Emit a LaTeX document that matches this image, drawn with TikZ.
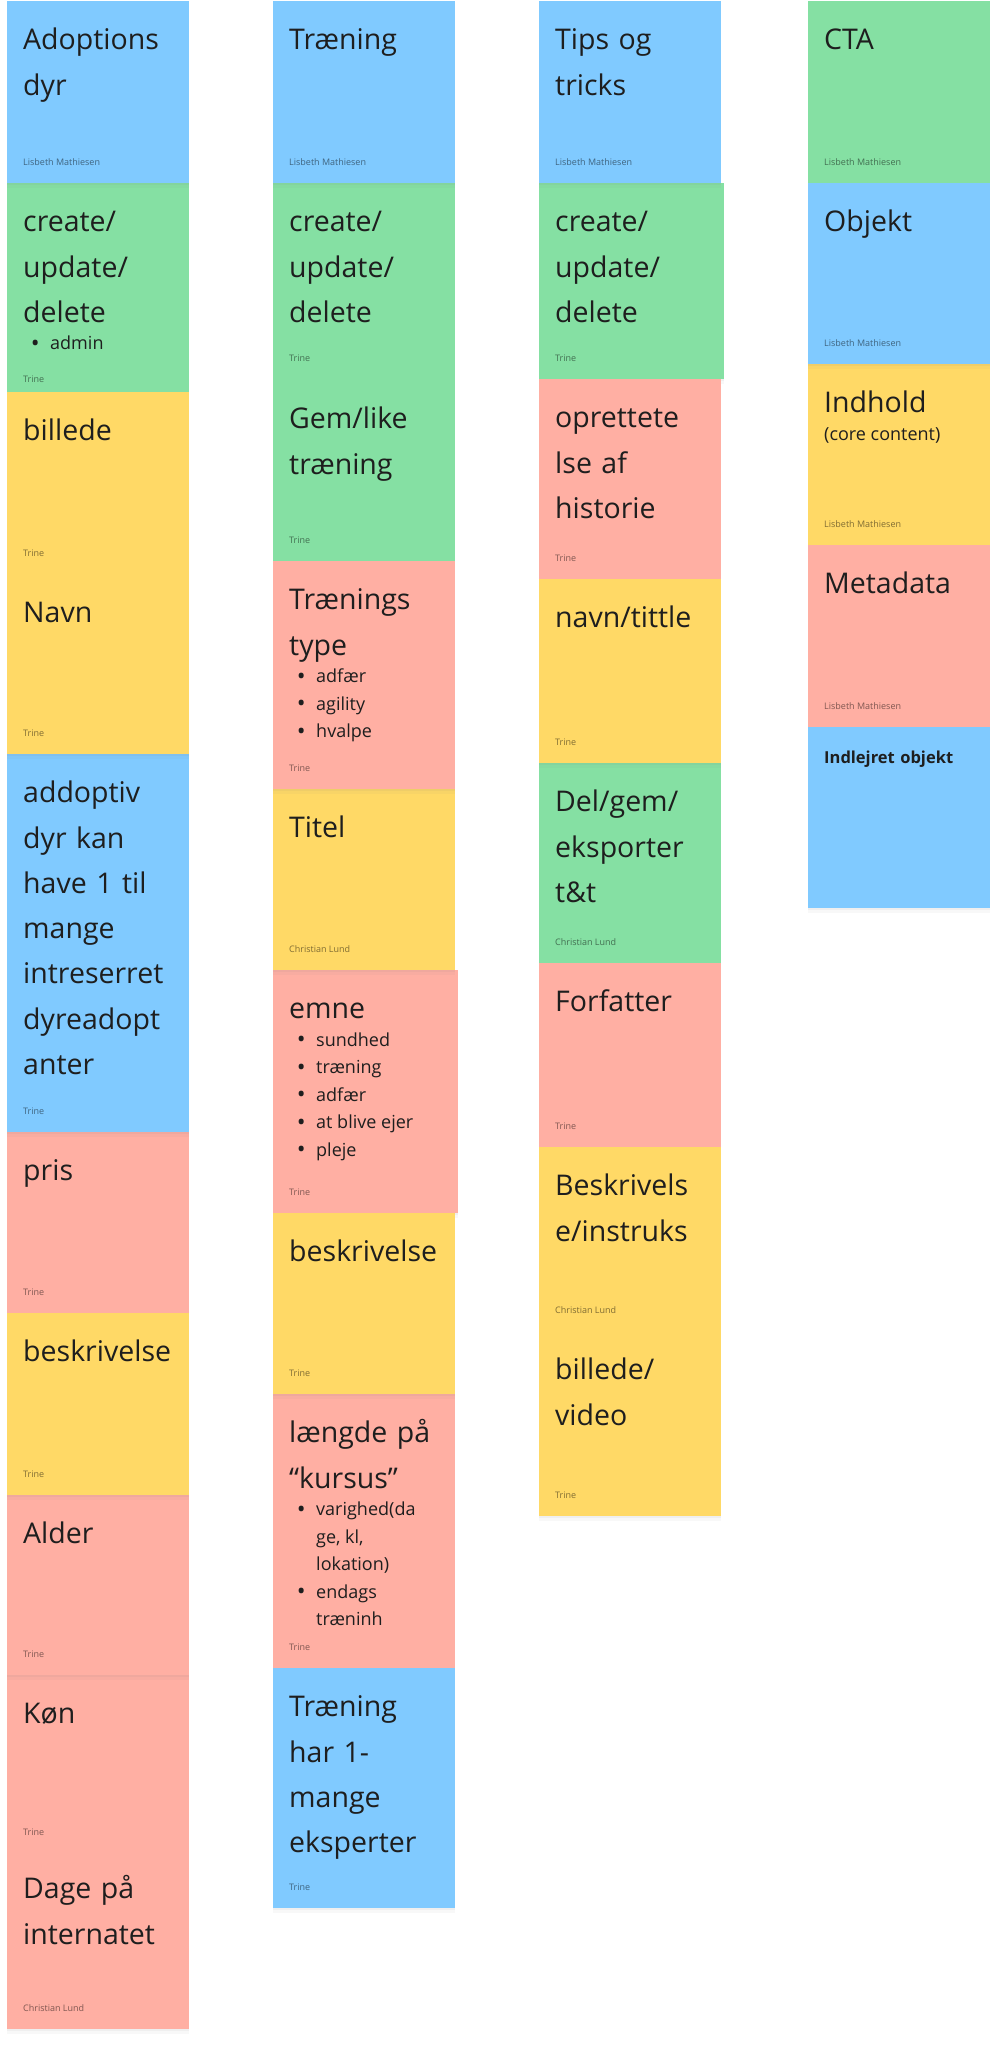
\documentclass[tikz,border=0pt]{standalone}
\usepackage{fontspec}
\setmainfont{Open Sans}
\usetikzlibrary{shadows}
\definecolor{blaafarve}{HTML}{80CAFF}
\definecolor{groenfarve}{HTML}{85E0A3}
\definecolor{gulfarve}{HTML}{FFD966}
\definecolor{roedfarve}{HTML}{FFAFA3}
\definecolor{tekstfarve}{HTML}{1E1E1E}
\newcommand{\smaa}{\fontsize{18}{27.5}\selectfont\spaceskip=0pt\xspaceskip=0pt}
\newcommand{\punkt}[1]{\par{\smaa\leftskip=27pt\noindent\llap{\raisebox{-1.5pt}{\scalebox{1.3}{\textbullet}}\hspace{10.5pt}}#1\par}}
\newcommand{\undertekst}[1]{\par{\smaa #1\par}}

\begin{document}
\begin{tikzpicture}[
    x=1pt, y=-1pt,
    seddel/.style={rectangle, anchor=north west, inner sep=0pt,
      minimum width=182pt, minimum height=182pt,
      drop shadow={shadow xshift=0pt, shadow yshift=-2pt, opacity=0.07},
      drop shadow={shadow xshift=0pt, shadow yshift=-5pt, opacity=0.05}},
    blaa/.style={seddel, fill=blaafarve},
    groen/.style={seddel, fill=groenfarve},
    gul/.style={seddel, fill=gulfarve},
    roed/.style={seddel, fill=roedfarve},
    tekst/.style={anchor=north west, xshift=16pt, yshift=-16.8pt, inner sep=0pt,
      text width=170pt, align=left, font=\fontsize{28.5}{45.3}\selectfont,
      text=tekstfarve, execute at begin node=\strut},
    forfatter/.style={anchor=base west, xshift=16pt, yshift=17.5pt, inner sep=0pt,
      font=\fontsize{9}{11}\selectfont, text=black, text opacity=0.5}
  ]
    \fill[white] (0,0) rectangle (998,2048);
    \useasboundingbox (0,0) rectangle (998,2048);

    % kolonne 1: adoptionsdyr
    \node[roed, minimum height=178pt, label={[tekst]north west:{Køn}},
      label={[forfatter]south west:Trine}] (kon) at (7,1675) {};
    \node[roed, minimum height=179pt, label={[tekst]north west:{Dage på\\internatet}},
      label={[forfatter]south west:Christian Lund}] (dage) at (7,1850) {};
    \node[roed, minimum height=180pt, label={[tekst]north west:{Alder}},
      label={[forfatter]south west:Trine}] (alder) at (7,1495) {};
    \node[roed, minimum height=181pt, label={[tekst]north west:{pris}},
      label={[forfatter]south west:Trine}] (pris) at (7,1132) {};
    \node[gul, label={[tekst]north west:{beskrivelse}},
      label={[forfatter]south west:Trine}] (beskr1) at (7,1313) {};
    \node[blaa, minimum height=378pt,
      label={[tekst]north west:{addoptiv\\dyr kan\\have 1 til\\mange\\intreserret\\dyreadopt\\anter}},
      label={[forfatter]south west:Trine}] (addoptiv) at (7,754) {};
    \node[groen, minimum height=209pt,
      label={[tekst]north west:{create/\\update/\\delete\punkt{admin}}},
      label={[forfatter, yshift=-8pt]south west:Trine}] (crud1) at (7,183) {};
    \node[gul, label={[tekst]north west:{billede}},
      label={[forfatter]south west:Trine}] (billede) at (7,392) {};
    \node[gul, minimum height=180pt, label={[tekst]north west:{Navn}},
      label={[forfatter]south west:Trine}] (navn) at (7,574) {};
    \node[blaa, label={[tekst]north west:{Adoptions\\dyr}},
      label={[forfatter]south west:Lisbeth Mathiesen}] (adopt) at (7,1) {};

    % kolonne 2: traening
    \node[roed, minimum height=274pt,
      label={[tekst]north west:{længde på\\“kursus”\punkt{varighed(da\\ge, kl,\\lokation)}\punkt{endags\\træninh}}},
      label={[forfatter]south west:Trine}] (laengde) at (273,1394) {};
    \node[blaa, minimum height=240pt,
      label={[tekst]north west:{Træning\\har 1-\\mange\\eksperter}},
      label={[forfatter]south west:Trine}] (ekspert) at (273,1668) {};
    \node[roed, minimum width=185pt, minimum height=243pt,
      label={[tekst]north west:{emne\punkt{sundhed}\punkt{træning}\punkt{adfær}\punkt{at blive ejer}\punkt{pleje}}},
      label={[forfatter]south west:Trine}] (emne) at (273,970) {};
    \node[gul, minimum height=181pt, label={[tekst]north west:{beskrivelse}},
      label={[forfatter]south west:Trine}] (beskr2) at (273,1213) {};
    \node[gul, minimum height=181pt, label={[tekst]north west:{Titel}},
      label={[forfatter]south west:Christian Lund}] (titel) at (273,789) {};
    \node[groen, minimum height=198pt,
      label={[tekst]north west:{create/\\update/\\delete}},
      label={[forfatter, yshift=2pt]south west:Trine}] (crud2) at (273,183) {};
    \node[groen, minimum height=181pt, label={[tekst]north west:{Gem/like\\træning}},
      label={[forfatter]south west:Trine}] (gem) at (273,380) {};
    \node[roed, minimum height=228pt,
      label={[tekst]north west:{Trænings\\type\punkt{adfær}\punkt{agility}\punkt{hvalpe}}},
      label={[forfatter]south west:Trine}] (tranings) at (273,561) {};
    \node[blaa, label={[tekst]north west:{Træning}},
      label={[forfatter]south west:Lisbeth Mathiesen}] (traen) at (273,1) {};

    % kolonne 3: tips og tricks
    \node[groen, minimum height=200pt, label={[tekst]north west:{Del/gem/\\eksporter\\t\&t}},
      label={[forfatter]south west:Christian Lund}] (delgem) at (539,763) {};
    \node[roed, minimum height=184pt, label={[tekst]north west:{Forfatter}},
      label={[forfatter]south west:Trine}] (forf) at (539,963) {};
    \node[gul, minimum height=184pt, label={[tekst]north west:{Beskrivels\\e/instruks}},
      label={[forfatter]south west:Christian Lund}] (beskr3) at (539,1147) {};
    \node[gul, minimum height=185pt, label={[tekst]north west:{billede/\\video}},
      label={[forfatter]south west:Trine}] (billvid) at (539,1331) {};
    \node[groen, minimum width=185pt, minimum height=196pt,
      label={[tekst]north west:{create/\\update/\\delete}},
      label={[forfatter]south west:Trine}] (crud3) at (539,183) {};
    \node[roed, minimum height=200pt, label={[tekst]north west:{oprettete\\lse af\\historie}},
      label={[forfatter]south west:Trine}] (opret) at (539,379) {};
    \node[gul, minimum height=184pt, label={[tekst]north west:{navn/tittle}},
      label={[forfatter]south west:Trine}] (navn2) at (539,579) {};
    \node[blaa, label={[tekst]north west:{Tips og\\tricks}},
      label={[forfatter]south west:Lisbeth Mathiesen}] (tips) at (539,1) {};

    % kolonne 4: CTA
    \node[gul, minimum height=181pt,
      label={[tekst]north west:{Indhold\undertekst{(core content)}}},
      label={[forfatter]south west:Lisbeth Mathiesen}] (indhold) at (808,364) {};
    \node[roed, label={[tekst]north west:{Metadata}},
      label={[forfatter]south west:Lisbeth Mathiesen}] (meta) at (808,545) {};
    \node[blaa, minimum height=181pt,
      label={[tekst, font=\bfseries\fontsize{16.5}{27.5}\selectfont]north west:{Indlejret objekt}}] (indlejret) at (808,727) {};
    \node[groen, label={[tekst]north west:{CTA}},
      label={[forfatter]south west:Lisbeth Mathiesen}] (cta) at (808,1) {};
    \node[blaa, minimum height=181pt, label={[tekst]north west:{Objekt}},
      label={[forfatter]south west:Lisbeth Mathiesen}] (objekt) at (808,183) {};
  \end{tikzpicture}
\end{document}
